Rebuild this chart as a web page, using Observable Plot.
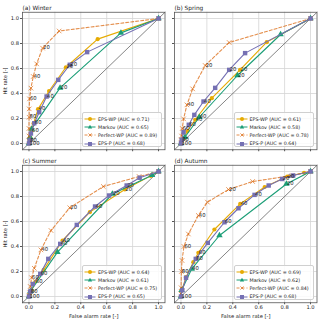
<!DOCTYPE html>
<html><head><meta charset="utf-8">
<script src="https://cdn.jsdelivr.net/npm/d3@7"></script>
<script src="https://cdn.jsdelivr.net/npm/@observablehq/plot@0.6"></script>
<style>
body{margin:0;background:#fff;font-family:"DejaVu Sans",sans-serif;}
#fig{position:relative;width:320px;height:322px;overflow:hidden;background:#fff;}
.lg{position:absolute;box-sizing:border-box;border:0.6px solid #d0d0d0;border-radius:2px;background:rgba(255,255,255,0.85);}
.lgrow{position:absolute;left:0;height:8px;display:flex;align-items:center;white-space:nowrap;font-size:4.8px;color:#222;}
</style></head><body><div id="fig"></div>
<script>
// ---- data ----
const xDomain = [-0.05, 1.05];
const tickValues = [0, 0.2, 0.4, 0.6, 0.8, 1.0];
const panelTitles = ["(a) Winter", "(b) Spring", "(c) Summer", "(d) Autumn"];
const seriesNames = ["EPS-WP", "Markov", "Perfect-WP", "EPS-P"];
const aucWinter = [0.71, 0.65, 0.89, 0.68];
const aucSpring = [0.61, 0.58, 0.78, 0.64];
const aucSummer = [0.64, 0.61, 0.75, 0.65];
const aucAutumn = [0.69, 0.62, 0.84, 0.68];

// [false alarm rate, hit rate, threshold label]
const winterEpsWp = [[1,1,""],[0.53,0.835,""],[0.285,0.61,"20"],[0.155,0.42,""],[0.07,0.275,"40"],[0.035,0.16,""],[0.02,0.1,"60"],[0.01,0.05,""],[0.004,0.02,""],[0,0,"100"]];
const winterMarkov = [[1,1,""],[0.71,0.885,""],[0.24,0.445,"20"],[0.02,0.117,""],[0.008,0.05,""],[0,0,""]];
const winterPerfectWp = [[1,1,""],[0.233,0.9,""],[0.105,0.763,"20"],[0.059,0.637,""],[0.033,0.536,"40"],[0.015,0.443,""],[0.004,0.357,"60"],[0.002,0.277,""],[0.001,0.21,"80"],[0,0.12,""],[0,0.06,""],[0,0.02,""]];
const winterEpsP = [[1,1,""],[0.449,0.731,""],[0.315,0.63,"20"],[0.226,0.509,""],[0.136,0.376,"40"],[0.079,0.25,""],[0.041,0.162,"60"],[0.015,0.08,""],[0.005,0.024,"80"],[0,0,""]];

const springEpsWp = [[1,1,""],[0.662,0.811,""],[0.456,0.589,"20"],[0.238,0.363,""],[0.11,0.19,"40"],[0.05,0.1,""],[0.02,0.04,""],[0.005,0.01,""],[0,0,"100"]];
const springMarkov = [[1,1,""],[0.769,0.872,""],[0.436,0.544,"20"],[0.141,0.21,"40"],[0.03,0.05,""],[0,0,""]];
const springPerfectWp = [[1,1,""],[0.372,0.808,""],[0.187,0.624,"20"],[0.09,0.437,""],[0.046,0.309,"40"],[0.02,0.197,""],[0.01,0.12,"60"],[0.004,0.06,""],[0.002,0.03,""],[0,0.01,""]];
const springEpsP = [[1,1,""],[0.495,0.723,""],[0.372,0.589,"20"],[0.264,0.445,""],[0.174,0.336,"40"],[0.103,0.229,""],[0.06,0.15,"60"],[0.02,0.09,""],[0.005,0.03,"80"],[0,0,""]];

const summerEpsWp = [[1,1,""],[0.94,0.965,""],[0.74,0.856,"20"],[0.47,0.675,""],[0.259,0.448,"40"],[0.113,0.213,""],[0.05,0.12,"60"],[0.02,0.05,""],[0.005,0.015,""],[0,0,"100"]];
const summerMarkov = [[1,1,""],[0.95,0.97,""],[0.644,0.82,"20"],[0.22,0.355,""],[0.01,0.04,""],[0,0,""]];
const summerPerfectWp = [[1,1,""],[0.85,0.96,""],[0.574,0.88,""],[0.315,0.71,"20"],[0.17,0.528,""],[0.092,0.373,"40"],[0.041,0.226,""],[0.02,0.15,"60"],[0.01,0.08,""],[0.005,0.03,""],[0,0.01,""]];
const summerEpsP = [[1,1,""],[0.854,0.95,""],[0.754,0.888,"20"],[0.618,0.808,""],[0.51,0.72,"40"],[0.369,0.573,""],[0.241,0.421,"40"],[0.149,0.301,""],[0.087,0.181,"60"],[0.03,0.1,""],[0.01,0.04,"80"],[0,0,""]];

const autumnEpsWp = [[1,1,""],[0.95,0.99,""],[0.82,0.96,"20"],[0.646,0.876,""],[0.457,0.741,"40"],[0.258,0.536,""],[0.134,0.35,"60"],[0.095,0.275,""],[0.039,0.155,""],[0.01,0.06,""],[0,0,"100"]];
const autumnMarkov = [[1,1,""],[0.814,0.9,"20"],[0.297,0.488,""],[0.083,0.221,"40"],[0.005,0.05,""],[0,0,""]];
const autumnPerfectWp = [[1,1,""],[0.858,0.968,""],[0.553,0.92,""],[0.367,0.856,"20"],[0.204,0.755,""],[0.134,0.648,"40"],[0.057,0.5,""],[0.023,0.4,"60"],[0.008,0.288,""],[0.003,0.2,"80"],[0.001,0.07,""],[0,0.02,""]];
const autumnEpsP = [[1,1,""],[0.866,0.968,""],[0.78,0.94,"20"],[0.677,0.888,""],[0.568,0.813,"40"],[0.444,0.706,""],[0.336,0.594,"60"],[0.207,0.429,""],[0.114,0.301,"80"],[0.039,0.15,""],[0.01,0.05,""],[0,0,""]];

// ---- styles ----
const seriesStyles = [
  {color: "#e6ab02", symbol: "circle", r: 2.1, filled: true, dash: null, opacity: 1},
  {color: "#1b9e77", symbol: "triangle", r: 2.4, filled: true, dash: null, opacity: 1},
  {color: "#d95f02", symbol: "times", r: 2.2, filled: false, dash: "3,2", opacity: 0.7},
  {color: "#7570b3", symbol: "square", r: 2.5, filled: true, dash: null, opacity: 1}
];

const panels = [
  {title: panelTitles[0], auc: aucWinter, series: [winterEpsWp, winterMarkov, winterPerfectWp, winterEpsP]},
  {title: panelTitles[1], auc: aucSpring, series: [springEpsWp, springMarkov, springPerfectWp, springEpsP]},
  {title: panelTitles[2], auc: aucSummer, series: [summerEpsWp, summerMarkov, summerPerfectWp, summerEpsP]},
  {title: panelTitles[3], auc: aucAutumn, series: [autumnEpsWp, autumnMarkov, autumnPerfectWp, autumnEpsP]}
];

const fig = document.getElementById("fig");
const fw = 142.5, fh = 137.5;

panels.forEach((p, i) => {
  const col = i % 2, row = Math.floor(i / 2);
  const frameLeft = col === 0 ? 22 : 173.5;
  const frameTop = row === 0 ? 11.75 : 164.75;
  const ml = col === 0 ? 22 : 8, mr = 3, mt = 11.75, mb = row === 0 ? 4 : 20;
  const X = d => d[0], Y = d => d[1];
  const marks = [
    Plot.gridX(tickValues, {stroke: "#d4d4d4", strokeOpacity: 1, strokeWidth: 0.8}),
    Plot.gridY(tickValues, {stroke: "#d4d4d4", strokeOpacity: 1, strokeWidth: 0.8}),
    Plot.line(xDomain, {x: d => d, y: d => d, stroke: "#666", strokeWidth: 0.8})
  ];
  p.series.forEach((s, k) => {
    const st = seriesStyles[k];
    marks.push(Plot.line(s, {x: X, y: Y, stroke: st.color, strokeWidth: 1.1, strokeDasharray: st.dash, strokeOpacity: st.opacity}));
    marks.push(Plot.dot(s, {x: X, y: Y, symbol: st.symbol, r: st.r,
      fill: st.filled ? st.color : "none", stroke: st.filled ? "none" : st.color,
      strokeWidth: 0.9, fillOpacity: st.opacity, strokeOpacity: st.opacity}));
  });
  p.series.forEach(s => {
    marks.push(Plot.text(s.filter(d => d[2]), {x: X, y: Y, text: d => d[2], textAnchor: "start", dx: 0.5, dy: -0.5, fontSize: 5.3, fill: "#222"}));
  });
  marks.push(Plot.frame({stroke: "#555", strokeWidth: 0.8}));
  marks.push(Plot.axisX(tickValues, {
    tickSize: 2, tickPadding: 1, stroke: "#555",
    tickFormat: row === 1 ? d3.format(".1f") : () => "",
    label: row === 1 ? "False alarm rate [-]" : null,
    labelAnchor: "center", labelOffset: 15, labelArrow: "none"
  }));
  marks.push(Plot.axisY(tickValues, {
    tickSize: 2, tickPadding: 1.5, stroke: "#555",
    tickFormat: col === 0 ? d3.format(".1f") : () => "",
    label: col === 0 ? "Hit rate [-]" : null,
    labelAnchor: "center", labelOffset: 19, labelArrow: "none"
  }));
  marks.push(Plot.text([p.title], {text: d => d, frameAnchor: "top-left", textAnchor: "start", lineAnchor: "bottom", dy: -2.5, fontSize: 5.8, fill: "#222"}));

  const svg = Plot.plot({
    width: ml + fw + mr, height: mt + fh + mb,
    marginLeft: ml, marginRight: mr, marginTop: mt, marginBottom: mb,
    x: {domain: xDomain}, y: {domain: xDomain},
    style: {background: "transparent", fontFamily: "DejaVu Sans", fontSize: "5.2px", overflow: "visible", color: "#222"},
    marks
  });
  svg.style.position = "absolute";
  svg.style.left = (frameLeft - ml) + "px";
  svg.style.top = (frameTop - mt) + "px";
  fig.appendChild(svg);

  // legend
  const lg = document.createElement("div");
  lg.className = "lg";
  const lw = 80, lh = 35.5;
  lg.style.left = (frameLeft + fw - lw - 2.5) + "px";
  lg.style.top = (frameTop + fh - lh - 2) + "px";
  lg.style.width = lw + "px";
  lg.style.height = lh + "px";
  seriesNames.forEach((n, k) => {
    const st = seriesStyles[k];
    const r = document.createElement("div");
    r.className = "lgrow";
    r.style.top = (2.5 + 8.1 * k) + "px";
    let m;
    if (st.symbol === "circle") m = `<circle cx="7" cy="4" r="2" fill="${st.color}"/>`;
    else if (st.symbol === "triangle") m = `<path d="M7,1.8L9.2,5.6L4.8,5.6Z" fill="${st.color}"/>`;
    else if (st.symbol === "square") m = `<rect x="5" y="2" width="4" height="4" fill="${st.color}"/>`;
    else m = `<path d="M5.4,2.4L8.6,5.6M8.6,2.4L5.4,5.6" stroke="${st.color}" stroke-opacity="${st.opacity}" stroke-width="0.9"/>`;
    r.innerHTML = `<svg width="15" height="8" style="display:block"><line x1="1.5" x2="12.5" y1="4" y2="4" stroke="${st.color}" stroke-opacity="${st.opacity}" stroke-width="1" ${st.dash ? `stroke-dasharray="${st.dash}"` : ""}/>${m}</svg><span>${n} (AUC = ${p.auc[k].toFixed(2)})</span>`;
    lg.appendChild(r);
  });
  fig.appendChild(lg);
});
</script></body></html>
